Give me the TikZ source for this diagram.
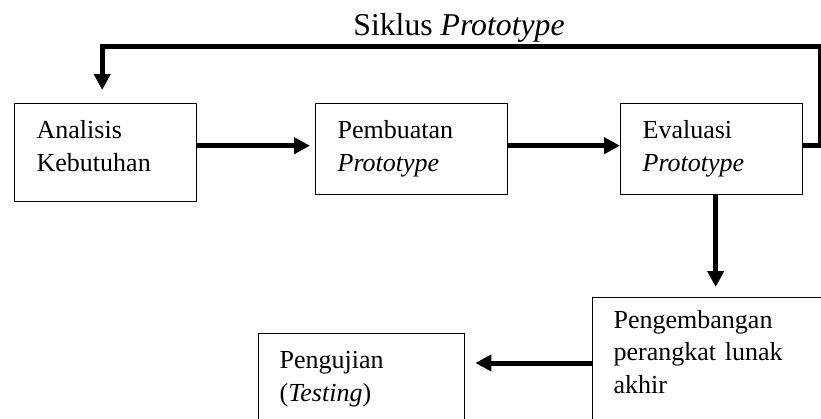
\documentclass[tikz,border=0pt]{standalone}
\usepackage{fontspec}
\setmainfont{Liberation Serif}
\usepackage{tikz}
\usetikzlibrary{positioning,arrows.meta}

\tikzset{
    box/.style={draw, line width=1pt, anchor=north west, align=left,
        inner xsep=16.5pt, inner ysep=0pt, font=\fontsize{19.5}{24.5}\selectfont},
    flow/.style={line width=3.75pt, -{Triangle[length=12pt,width=12pt]}}
}

\begin{document}
\begin{tikzpicture}[x=0.75pt,y=-0.75pt]
    \useasboundingbox (0,0) rectangle (821,418);
    \clip (0,0) rectangle (821,418);
    % title
    \node[anchor=base] (title) at (459,35) {\fontsize{23.8}{28}\selectfont Siklus \textit{Prototype}};
    % row 1
    \node[box, text width=103.5pt, text height=26.25pt, text depth=47.25pt] (ana) at (14,103) {Analisis\\Kebutuhan};
    \node[box, text width=111pt, text height=26.25pt, text depth=42pt] (pem) at (315,103) {Pembuatan\\\textit{Prototype}};
    \node[box, text width=103.5pt, text height=26.25pt, text depth=42pt] (eva) at (620,103) {Evaluasi\\\textit{Prototype}};
    % row 2
    \node[box, inner xsep=15.75pt, text width=200pt, text height=22.9pt, text depth=90pt] (dev) at (592,297) {Pengembangan\\perangkat lunak\\akhir};
    \node[box, inner xsep=15.75pt, text width=123pt, text height=26.25pt, text depth=60pt] (uji) at (258,333) {Pengujian\\(\textit{Testing})};
    % loop back
    \coordinate (loop) at (820,46);
    \draw[flow, shorten >=9.75pt] ([yshift=2.6pt]eva.east) -| (loop) -| ([xshift=-2.6pt]ana.north);
    % arrows
    \draw[flow, shorten >=3.75pt] ([yshift=2.6pt]ana.east |- pem.west) -- ([yshift=2.6pt]pem.west);
    \draw[flow] ([yshift=2.6pt]pem.east) -- ([yshift=2.6pt]eva.west);
    \draw[flow, shorten >=7.5pt] ([xshift=3pt]eva.south) -- ([xshift=3pt]eva.south |- dev.north);
    \coordinate (devout) at (592,363);
    \draw[flow, shorten >=7.5pt] (devout) -- (devout -| uji.east);
\end{tikzpicture}
\end{document}
